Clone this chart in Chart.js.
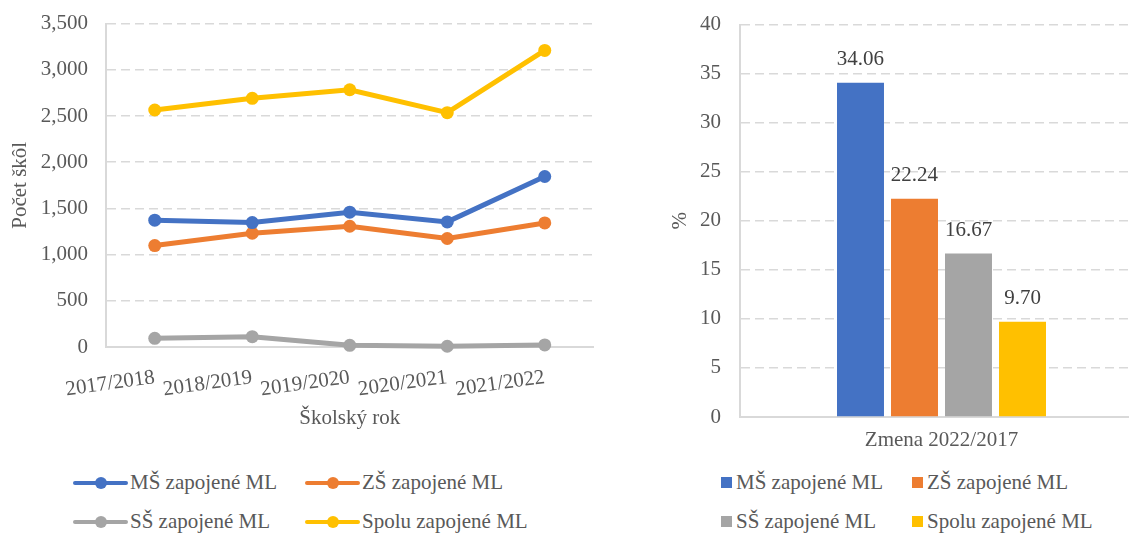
<!DOCTYPE html>
<html>
<head>
<meta charset="utf-8">
<script src="https://cdn.jsdelivr.net/npm/chart.js@4/dist/chart.umd.min.js"></script>
<style>
  html, body { margin:0; padding:0; background:#fff; overflow:hidden; }
  body { width:1129px; height:533px; position:relative; font-family:"Liberation Serif", "DejaVu Serif", serif; color:#595959; }
  .box { position:absolute; }
  .legend { position:absolute; display:grid; row-gap:0; font-size:21px; }
  .legend .item { display:flex; align-items:center; height:39px; white-space:nowrap; }
  .lineMark { position:relative; width:55px; height:4px; border-radius:2px; margin-right:2px; }
  .lineMark i { position:absolute; left:22px; top:-4px; width:12px; height:12px; border-radius:50%; background:inherit; }
  .sqMark { width:11px; height:11px; margin-right:4px; }
</style>
</head>
<body>
<div class="box" id="boxLeft" style="left:0;top:-7px;width:600px;height:438px;"><canvas id="chartLeft"></canvas></div>
<div class="box" id="boxRight" style="left:620px;top:-7px;width:530px;height:457px;"><canvas id="chartRight"></canvas></div>
<div class="legend" id="legendLeft" style="left:73px;top:463px;grid-template-columns:232px 232px;"></div>
<div class="legend" id="legendRight" style="left:721px;top:463px;grid-template-columns:191px 191px;"></div>
<script>
// ==================== Dados ====================
const years = ['2017/2018', '2018/2019', '2019/2020', '2020/2021', '2021/2022'];
const seriesNames = ['MŠ zapojené ML', 'ZŠ zapojené ML', 'SŠ zapojené ML', 'Spolu zapojené ML'];
const seriesColors = ['#4472C4', '#ED7D31', '#A5A5A5', '#FFC000'];

const msValues = [1373, 1347, 1459, 1354, 1845];
const zsValues = [1098, 1232, 1307, 1174, 1343];
const ssValues = [94, 112, 18, 8, 22];
const spoluValues = [2565, 2691, 2784, 2536, 3210];

const zmenaLabels = ['Zmena 2022/2017'];
const zmenaValues = [34.06, 22.24, 16.67, 9.70];

const FONT = '"Liberation Serif", "DejaVu Serif", serif';
const TXT = '#595959';
const GRID = '#D9D9D9';

// ==================== Plugin rotulos ====================
const barValueLabels = {
  id: 'barValueLabels',
  afterDatasetsDraw(chart) {
    const ctx = chart.ctx;
    ctx.save();
    ctx.font = '21px ' + FONT;
    ctx.fillStyle = '#404040';
    ctx.textAlign = 'center';
    ctx.textBaseline = 'middle';
    chart.data.datasets.forEach((ds, i) => {
      chart.getDatasetMeta(i).data.forEach((bar, j) => {
        ctx.fillText(Number(ds.data[j]).toFixed(2), bar.x, bar.y - 23);
      });
    });
    ctx.restore();
  }
};

// ==================== Grafico linhas ====================
const lineSeries = [msValues, zsValues, ssValues, spoluValues];
new Chart(document.getElementById('chartLeft'), {
  type: 'line',
  data: {
    labels: years,
    datasets: lineSeries.map((vals, i) => ({
      label: seriesNames[i],
      data: vals,
      borderColor: seriesColors[i],
      backgroundColor: seriesColors[i],
      borderWidth: 5,
      pointRadius: 6.5,
      pointBorderWidth: 0,
      tension: 0,
      clip: false
    }))
  },
  options: {
    responsive: true, maintainAspectRatio: false, animation: false,
    layout: { padding: { top: 16, right: 5, left: 0, bottom: 0 } },
    plugins: { legend: { display: false }, tooltip: { enabled: false } },
    scales: {
      x: {
        offset: true,
        grid: { display: false },
        border: { color: GRID, width: 2 },
        ticks: { color: TXT, font: { family: FONT, size: 21 }, minRotation: 8, maxRotation: 8, autoSkip: false, padding: 10 },
        title: { display: true, text: 'Školský rok', color: TXT, font: { family: FONT, size: 21 }, padding: { top: 0, bottom: 0 } },
        afterFit: s => { s.height = 84; }
      },
      y: {
        min: 0, max: 3500,
        grid: { color: GRID, lineWidth: 1.5, drawTicks: false },
        border: { color: GRID, width: 2, dash: [9, 5] },
        ticks: { stepSize: 500, color: TXT, font: { family: FONT, size: 21 }, padding: 18,
                 callback: v => Number(v).toLocaleString('en-US') },
        title: { display: true, text: 'Počet škôl', color: TXT, font: { family: FONT, size: 21 }, padding: { top: 8, bottom: 0 } },
        afterFit: s => { s.width = 106; }
      }
    }
  }
});

// ==================== Grafico barras ====================
new Chart(document.getElementById('chartRight'), {
  type: 'bar',
  data: {
    labels: zmenaLabels,
    datasets: zmenaValues.map((v, i) => ({
      label: seriesNames[i],
      data: [v],
      backgroundColor: seriesColors[i],
      categoryPercentage: 0.536,
      barPercentage: 0.87
    }))
  },
  options: {
    responsive: true, maintainAspectRatio: false, animation: false,
    layout: { padding: { top: 16, right: 7, left: 0, bottom: 0 } },
    plugins: { legend: { display: false }, tooltip: { enabled: false } },
    scales: {
      x: {
        grid: { display: false },
        border: { color: GRID, width: 2 },
        ticks: { color: TXT, font: { family: FONT, size: 21 }, padding: 3 },
        afterFit: s => { s.height = 33; }
      },
      y: {
        min: 0, max: 40,
        grid: { color: GRID, lineWidth: 1.5, drawTicks: false },
        border: { color: GRID, width: 2, dash: [9, 5] },
        ticks: { stepSize: 5, color: TXT, font: { family: FONT, size: 21 }, padding: 19 },
        title: { display: true, text: '%', color: TXT, font: { family: FONT, size: 21 }, padding: { top: 48, bottom: 0 } },
        afterFit: s => { s.width = 120; }
      }
    }
  },
  plugins: [barValueLabels]
});

// ==================== Legendas ====================
function buildLegend(id, kind) {
  const el = document.getElementById(id);
  el.innerHTML = seriesNames.map((name, i) => {
    const mark = kind === 'line'
      ? `<span class="lineMark" style="background:${seriesColors[i]}"><i></i></span>`
      : `<span class="sqMark" style="background:${seriesColors[i]}"></span>`;
    return `<div class="item">${mark}<span>${name}</span></div>`;
  }).join('');
}
buildLegend('legendLeft', 'line');
buildLegend('legendRight', 'square');
</script>
</body>
</html>
